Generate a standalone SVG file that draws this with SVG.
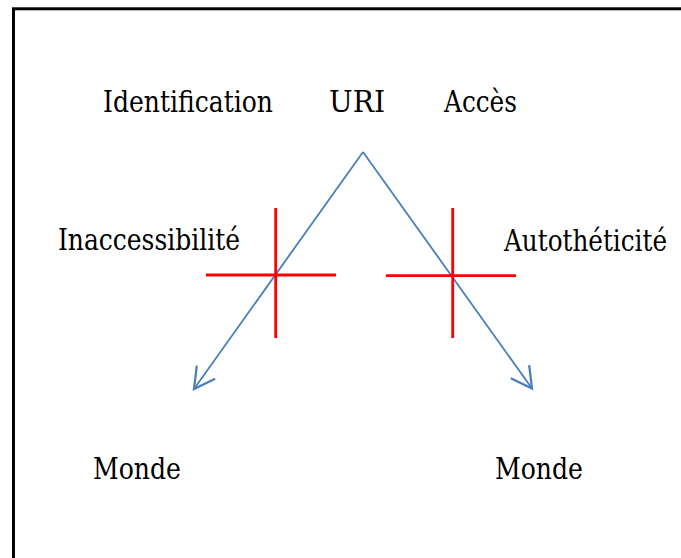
<svg xmlns="http://www.w3.org/2000/svg" width="681" height="558" viewBox="0 0 681 558">
<defs>
<style>
.t{font-family:'DejaVu Serif','Liberation Serif',serif;font-size:29px;fill:#000}
.c{stroke:#4a7ebb;stroke-width:1.8;fill:none}
.x{stroke:#ff0000;stroke-width:2.8;fill:none}
</style>
<marker id="ah" markerUnits="userSpaceOnUse" markerWidth="30" markerHeight="30" viewBox="-20 -12 24 24" refX="0" refY="0" orient="auto">
<path d="M -16.5 -9 L 0 0 L -16.5 9" fill="none" stroke="#4a7ebb" stroke-width="1.8"/>
</marker>
</defs>
<rect x="0" y="0" width="681" height="558" fill="#fff"/>
<rect id="frame" x="13.5" y="8.8" width="700" height="600" fill="none" stroke="#000" stroke-width="3"/>
<g id="n-identification"><text class="t" x="103" y="112" textLength="170" lengthAdjust="spacingAndGlyphs">Identification</text></g>
<g id="n-uri"><text class="t" x="329" y="112" textLength="56" lengthAdjust="spacingAndGlyphs">URI</text></g>
<g id="n-acces"><text class="t" x="444" y="112" textLength="73" lengthAdjust="spacingAndGlyphs">Accès</text></g>
<g id="n-inaccessibilite"><text class="t" x="58" y="249.5" textLength="182" lengthAdjust="spacingAndGlyphs">Inaccessibilité</text></g>
<g id="n-autotheticite"><text class="t" x="504" y="251" textLength="163" lengthAdjust="spacingAndGlyphs">Autothéticité</text></g>
<g id="n-monde-left"><text class="t" x="93" y="479" textLength="88" lengthAdjust="spacingAndGlyphs">Monde</text></g>
<g id="n-monde-right"><text class="t" x="495" y="479" textLength="88" lengthAdjust="spacingAndGlyphs">Monde</text></g>
<g id="connectors">
<line class="c" x1="363" y1="152" x2="194" y2="389" marker-end="url(#ah)"/>
<line class="c" x1="363" y1="152" x2="532" y2="388.5" marker-end="url(#ah)"/>
</g>
<g id="crosses">
<line class="x" x1="275.7" y1="208" x2="275.7" y2="338"/>
<line class="x" x1="206" y1="275" x2="336" y2="275"/>
<line class="x" x1="452.7" y1="208" x2="452.7" y2="338"/>
<line class="x" x1="386" y1="275.7" x2="516" y2="275.7"/>
</g>
</svg>
